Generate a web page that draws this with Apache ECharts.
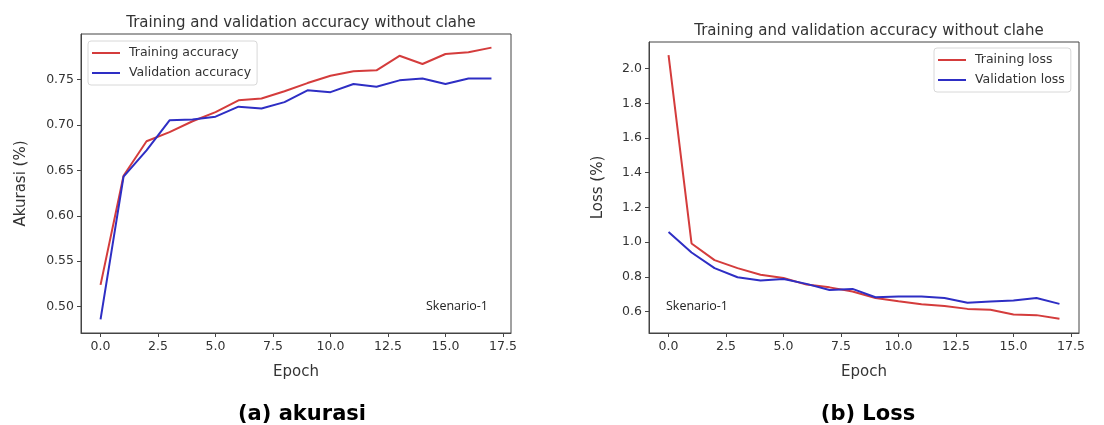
<!DOCTYPE html>
<html>
<head>
<meta charset="utf-8">
<script src="https://cdn.jsdelivr.net/npm/echarts@6/dist/echarts.min.js"></script>
<style>
html,body{margin:0;padding:0;background:#fff;}
#c{width:1104px;height:425px;}
</style>
</head>
<body>
<div id="c"></div>
<script>
// ---- data ----
const epochs = [0,1,2,3,4,5,6,7,8,9,10,11,12,13,14,15,16,17];
const trainAcc = [0.524,0.644,0.682,0.692,0.704,0.714,0.727,0.729,0.737,0.746,0.754,0.759,0.760,0.776,0.767,0.778,0.780,0.785];
const valAcc   = [0.486,0.643,0.672,0.705,0.706,0.709,0.720,0.718,0.725,0.738,0.736,0.745,0.742,0.749,0.751,0.745,0.751,0.751];
const trainLoss = [2.077,0.992,0.896,0.850,0.812,0.793,0.755,0.739,0.715,0.678,0.659,0.642,0.632,0.615,0.610,0.583,0.579,0.558];
const valLoss   = [1.058,0.940,0.850,0.797,0.778,0.787,0.759,0.724,0.730,0.682,0.686,0.686,0.678,0.650,0.657,0.663,0.678,0.644];
const xTicks = [0,2.5,5,7.5,10,12.5,15,17.5];
const accTicks = [0.50,0.55,0.60,0.65,0.70,0.75];
const lossTicks = [0.6,0.8,1.0,1.2,1.4,1.6,1.8,2.0];
const titleText = 'Training and validation accuracy without clahe';
const seriesNames = ['Training accuracy','Validation accuracy','Training loss','Validation loss'];
const captions = ['(a) akurasi','(b) Loss'];
const noteText = 'Skenario-1';

const RED = '#d43c3c', BLUE = '#2e2ec4', TXT = '#333', AX = '#444';
const FONT = 'DejaVu Sans';
const pairs = (ys) => epochs.map((e,i)=>[e, ys[i]]);

function xAxis(gi){
  return {
    type:'value', gridIndex:gi, min:-0.85, max:17.85,
    name:'Epoch', nameLocation:'middle', nameGap:32,
    nameTextStyle:{fontFamily:FONT,fontSize:15,color:TXT},
    axisLine:{show:true,onZero:false,lineStyle:{color:AX,width:1}},
    axisTick:{show:true,inside:false,length:4,customValues:xTicks,lineStyle:{color:AX}},
    axisLabel:{customValues:xTicks,margin:7,fontFamily:FONT,fontSize:12.5,color:TXT,
      formatter:v=>Number(v).toFixed(1)},
    splitLine:{show:false}
  };
}
function yAxis(gi,min,max,ticks,dec,name,gap){
  return {
    type:'value', gridIndex:gi, min:min, max:max,
    name:name, nameLocation:'middle', nameGap:gap, nameRotate:90,
    nameTextStyle:{fontFamily:FONT,fontSize:15,color:TXT},
    axisLine:{show:true,onZero:false,lineStyle:{color:AX,width:1}},
    axisTick:{show:true,inside:false,length:4,customValues:ticks,lineStyle:{color:AX}},
    axisLabel:{customValues:ticks,margin:7,fontFamily:FONT,fontSize:12.5,color:TXT,
      formatter:v=>Number(v).toFixed(dec)},
    splitLine:{show:false}
  };
}
function legend(names,left,top){
  return {
    data:names, orient:'vertical', left:left, top:top,
    icon:'rect', itemWidth:28, itemHeight:2, itemGap:6,
    padding:[5,6,5,4],
    backgroundColor:'rgba(255,255,255,0.9)', borderColor:'#d8d8d8', borderWidth:1, borderRadius:3,
    textStyle:{fontFamily:FONT,fontSize:12.5,color:TXT,lineHeight:14,padding:[0,0,0,4]},
    selectedMode:false
  };
}
function line(name,gi,ys,color){
  return {
    name:name, type:'line', xAxisIndex:gi, yAxisIndex:gi, data:pairs(ys),
    symbol:'none', smooth:false, animation:false,
    lineStyle:{color:color,width:2}, itemStyle:{color:color}
  };
}

const chart = echarts.init(document.getElementById('c'), null, {renderer:'canvas'});
chart.setOption({
  backgroundColor:'#ffffff',
  animation:false,
  title:[
    {text:titleText,left:296,top:11,textAlign:'center',textStyle:{fontFamily:FONT,fontSize:15,fontWeight:'normal',color:TXT}},
    {text:titleText,left:864,top:19,textAlign:'center',textStyle:{fontFamily:FONT,fontSize:15,fontWeight:'normal',color:TXT}},
    {text:captions[0],left:297,top:399,textAlign:'center',textStyle:{fontFamily:FONT,fontSize:21,fontWeight:'bold',color:'#000'}},
    {text:captions[1],left:863,top:399,textAlign:'center',textStyle:{fontFamily:FONT,fontSize:21,fontWeight:'bold',color:'#000'}}
  ],
  grid:[
    {left:81,top:34,width:430,height:299,show:true,borderColor:AX,borderWidth:1,backgroundColor:'#fff'},
    {left:649,top:42,width:430,height:291,show:true,borderColor:AX,borderWidth:1,backgroundColor:'#fff'}
  ],
  xAxis:[xAxis(0),xAxis(1)],
  yAxis:[
    yAxis(0,0.471,0.800,accTicks,2,'Akurasi (%)',52),
    yAxis(1,0.476,2.153,lossTicks,1,'Loss (%)',43)
  ],
  legend:[
    legend([seriesNames[0],seriesNames[1]],88,41),
    legend([seriesNames[2],seriesNames[3]],934,48)
  ],
  series:[
    line(seriesNames[0],0,trainAcc,RED),
    line(seriesNames[1],0,valAcc,BLUE),
    line(seriesNames[2],1,trainLoss,RED),
    line(seriesNames[3],1,valLoss,BLUE)
  ],
  graphic:[
    {type:'text',left:426,top:300,style:{text:noteText,fontFamily:'Open Sans',fontSize:12.5,fill:'#222'}},
    {type:'text',left:666,top:300,style:{text:noteText,fontFamily:'Open Sans',fontSize:12.5,fill:'#222'}}
  ]
});
</script>
</body>
</html>
